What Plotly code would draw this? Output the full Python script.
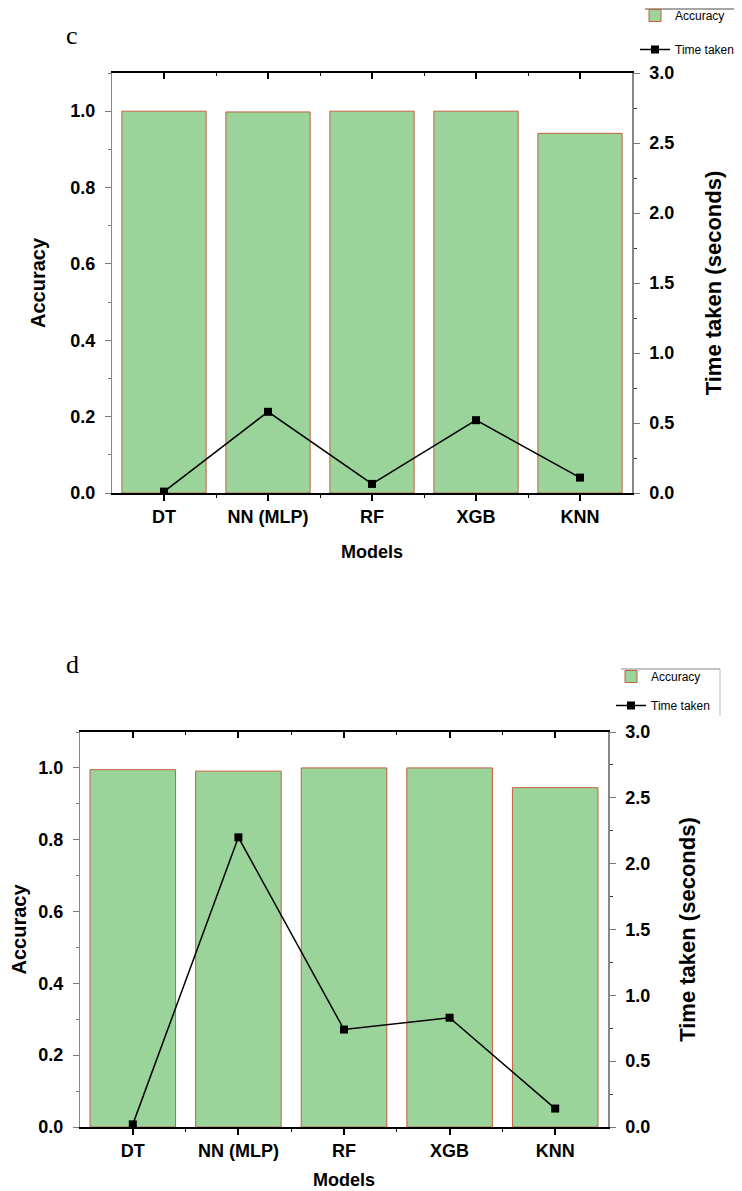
import plotly.graph_objects as go

models = ["DT", "NN (MLP)", "RF", "XGB", "KNN"]
acc_c = [1.0, 0.998, 1.0, 1.0, 0.942]
time_c = [0.01, 0.58, 0.065, 0.52, 0.11]
acc_d = [0.995, 0.991, 1.0, 1.0, 0.945]
time_d = [0.02, 2.2, 0.74, 0.83, 0.14]
left_ticks = [0.0, 0.2, 0.4, 0.6, 0.8, 1.0]
right_ticks = [0.0, 0.5, 1.0, 1.5, 2.0, 2.5, 3.0]

idx = list(range(len(models)))
W, H = 742, 1191
OFF = 8  # default page margin of the html body
FONT = "Arial, Liberation Sans, sans-serif"
BAR_FILL = "#9AD49A"
BAR_LINE = "#C4603E"


def PX(x):
    return (x - OFF) / W


def PY(y):
    return 1 - (y - OFF) / H


fig = go.Figure()


def add_panel(acc, tm, xa, xa_top, ya, ya2, leg):
    fig.add_trace(go.Bar(x=idx, y=acc, width=0.81, name="Accuracy",
                         marker=dict(color=BAR_FILL, line=dict(color=BAR_LINE, width=1)),
                         xaxis=xa, yaxis=ya, legend=leg, legendgroup="a" + leg))
    fig.add_trace(go.Scatter(x=idx, y=tm, name="Time taken", mode="lines+markers",
                             line=dict(color="black", width=1.5),
                             marker=dict(symbol="square", size=8, color="black"),
                             xaxis=xa, yaxis=ya2, legend=leg, legendgroup="b" + leg))
    # transparent helper so that the top (mirrored) category axis is drawn
    fig.add_trace(go.Scatter(x=idx, y=acc, mode="markers", marker=dict(opacity=0),
                             xaxis=xa_top, yaxis=ya, showlegend=False, hoverinfo="skip"))


add_panel(acc_c, time_c, "x", "x2", "y", "y2", "legend")
add_panel(acc_d, time_d, "x3", "x4", "y3", "y4", "legend2")

tickfont = dict(family=FONT, size=18, color="black", weight="bold")
minor_x = dict(tickvals=[0.5, 1.5, 2.5, 3.5], ticklen=3, tickcolor="black", tickwidth=1.2)


def axes(xn, xtn, yn, y2n, x0, x1, y0, y1, xa_ref, ya_ref, lstand, rstand, bstand):
    xdom = [PX(x0), PX(x1)]
    ydom = [PY(y1), PY(y0)]
    base_x = dict(domain=xdom, range=[-0.5, 4.5], tickvals=idx, showgrid=False, zeroline=False,
                  showline=True, linecolor="black", linewidth=2)
    fig.layout[xn] = dict(base_x, anchor=ya_ref, ticktext=models, ticks="outside", ticklen=6,
                          tickwidth=1.5, tickcolor="black", tickfont=tickfont,
                          title=dict(text="Models", standoff=bstand,
                                     font=dict(family=FONT, size=18, color="black", weight="bold")),
                          minor=dict(minor_x, ticks="outside"))
    fig.layout[xtn] = dict(base_x, anchor=ya_ref, overlaying=xa_ref, side="top",
                           showticklabels=False, ticks="inside", ticklen=6, tickwidth=1.5,
                           tickcolor="black", minor=dict(minor_x, ticks="inside"))
    fig.layout[yn] = dict(domain=ydom, anchor=xa_ref, range=[0, 1.1], tickvals=left_ticks,
                          tickformat=".1f", ticks="outside", ticklen=6, tickcolor="#777",
                          ticklabelstandoff=6,
                          showgrid=False, zeroline=False, showline=True, linecolor="#888",
                          linewidth=1.2, tickfont=tickfont,
                          minor=dict(dtick=0.1, tick0=0, ticks="outside", ticklen=3, tickcolor="#777"),
                          title=dict(text="Accuracy", standoff=lstand,
                                     font=dict(family=FONT, size=20, color="black", weight="bold")))
    fig.layout[y2n] = dict(domain=ydom, anchor=xa_ref, overlaying=ya_ref, side="right",
                           range=[0, 3.0], tickvals=right_ticks, tickformat=".1f",
                           ticks="outside", ticklen=6, tickcolor="#777", showgrid=False,
                           ticklabelstandoff=6,
                           zeroline=False, showline=True, linecolor="#888", linewidth=1.5,
                           tickfont=tickfont,
                           minor=dict(dtick=0.25, tick0=0, ticks="outside", ticklen=3, tickcolor="#333"),
                           title=dict(text="Time taken (seconds)", standoff=rstand,
                                      font=dict(family=FONT, size=22, color="black", weight="bold")))


axes("xaxis", "xaxis2", "yaxis", "yaxis2", 112, 632, 73, 493, "x", "y", 19, 32, 20)
axes("xaxis3", "xaxis4", "yaxis3", "yaxis4", 80, 608, 732, 1127, "x3", "y3", 16, 30, 14)

legfont = dict(family=FONT, size=12, color="black")
serif = dict(family="Liberation Serif, Times New Roman, serif", size=26, color="black")
fig.update_layout(
    width=W, height=H, margin=dict(l=0, r=0, t=0, b=0, autoexpand=False),
    paper_bgcolor="white", plot_bgcolor="white", showlegend=True,
    legend=dict(x=PX(635), y=PY(1), xanchor="left", yanchor="top", font=legfont,
                bgcolor="rgba(0,0,0,0)", tracegroupgap=15, itemwidth=30),
    legend2=dict(x=PX(611), y=PY(662), xanchor="left", yanchor="top", font=legfont,
                 bgcolor="rgba(0,0,0,0)", tracegroupgap=10, itemwidth=30),
    annotations=[
        dict(text="c", x=PX(72), y=PY(36), xref="paper", yref="paper", showarrow=False,
             xanchor="center", yanchor="middle", font=serif),
        dict(text="d", x=PX(72), y=PY(665), xref="paper", yref="paper", showarrow=False,
             xanchor="center", yanchor="middle", font=serif),
    ],
    shapes=[
        dict(type="line", xref="paper", yref="paper", x0=PX(645), x1=1, y0=PY(9), y1=PY(9),
             line=dict(color="#888", width=1.5)),
        dict(type="line", xref="paper", yref="paper", x0=PX(621), x1=PX(720), y0=PY(669),
             y1=PY(669), line=dict(color="#888", width=1.2)),
        dict(type="line", xref="paper", yref="paper", x0=PX(720), x1=PX(720), y0=PY(669),
             y1=PY(716), line=dict(color="#bbb", width=1)),
    ],
)

fig.write_html("out.html")
